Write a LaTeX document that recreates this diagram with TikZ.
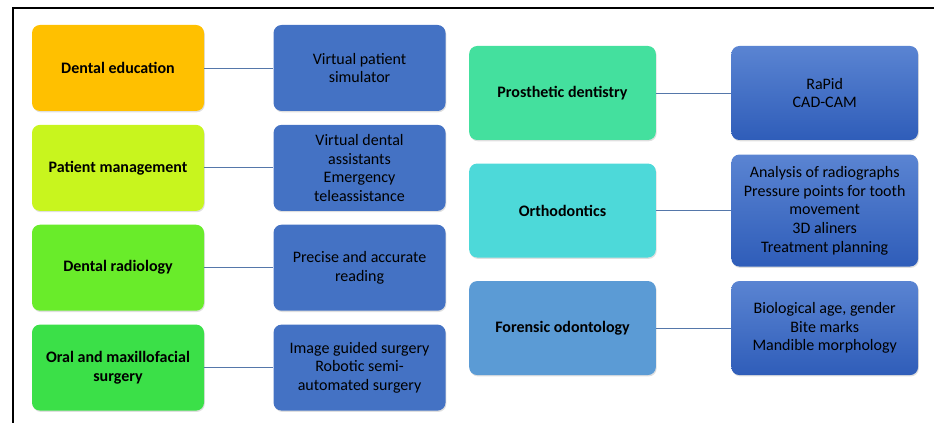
\documentclass[tikz,border=0pt]{standalone}
\usepackage{fontspec}
\setmainfont{Carlito}
\usepackage{tikz}
\usetikzlibrary{positioning,shadows}

\definecolor{eduorange}{HTML}{FFC000}
\definecolor{mgmtlime}{HTML}{C8F51E}
\definecolor{radgreen}{HTML}{69EC2A}
\definecolor{surggreen}{HTML}{3BE048}
\definecolor{prosgreen}{HTML}{44E09E}
\definecolor{orthocyan}{HTML}{4DD9D9}
\definecolor{forblue}{HTML}{5B9BD5}
\definecolor{useblue}{HTML}{4472C4}
\definecolor{usetop}{HTML}{5A84D2}
\definecolor{usebottom}{HTML}{2F5DB9}
\definecolor{linkblue}{HTML}{5577AA}

\begin{document}
\begin{tikzpicture}[
    x=0.75pt, y=-0.75pt,
    every node/.style={rectangle, rounded corners=6pt, align=center, font=\fontsize{12}{14}\selectfont,
        drop shadow={opacity=0.25, shadow xshift=0.6pt, shadow yshift=-1pt}},
    field/.style={minimum width=129pt, minimum height=64.5pt, font=\fontsize{12}{14}\selectfont\bfseries},
    usecase/.style={fill=useblue, minimum width=129pt, minimum height=64.5pt},
    fieldr/.style={minimum width=140pt, minimum height=70.5pt, font=\fontsize{12}{14}\selectfont\bfseries},
    usecaser/.style={top color=usetop, bottom color=usebottom, minimum width=140pt, minimum height=70.5pt},
    link/.style={draw=linkblue, line width=0.7pt}
]
\useasboundingbox (0,0) rectangle (934,423);

% frame
\draw[line width=1.8pt] (13,423) -- (13,8) -- (934,8);

% left group
\node[field, fill=eduorange] (edu) at (118,68) {Dental education};
\node[field, fill=mgmtlime] (mgmt) [below=10pt of edu] {Patient management};
\node[field, fill=radgreen] (rad) [below=10pt of mgmt] {Dental radiology};
\node[field, fill=surggreen] (surg) [below=10pt of rad] {Oral and maxillofacial\\surgery};

\node[usecase] (sim) [right=51.75pt of edu] {Virtual patient\\simulator};
\node[usecase] (assist) [right=51.75pt of mgmt] {Virtual dental\\assistants\\Emergency\\teleassistance};
\node[usecase] (read) [right=51.75pt of rad] {Precise and accurate\\reading};
\node[usecase] (robot) [right=51.75pt of surg] {Image guided surgery\\Robotic semi-\\automated surgery};

% right group
\node[fieldr, fill=prosgreen] (pros) at (562.5,93) {Prosthetic dentistry};
\node[fieldr, fill=orthocyan] (ortho) [below=17.25pt of pros] {Orthodontics};
\node[fieldr, fill=forblue] (foren) [below=17.25pt of ortho] {Forensic odontology};

\node[usecaser] (cad) [right=56.25pt of pros] {RaPid\\CAD-CAM};
\node[usecaser, minimum height=84pt] (align) [right=56.25pt of ortho] {Analysis of radiographs\\Pressure points for tooth\\movement\\3D aliners\\Treatment planning};
\node[usecaser] (bite) [right=56.25pt of foren] {Biological age, gender\\Bite marks\\Mandible morphology};

\draw[link] (edu) -- (sim);
\draw[link] (mgmt) -- (assist);
\draw[link] (rad) -- (read);
\draw[link] (surg) -- (robot);
\draw[link] (pros) -- (cad);
\draw[link] (ortho) -- (align);
\draw[link] (foren) -- (bite);

\end{tikzpicture}
\end{document}
